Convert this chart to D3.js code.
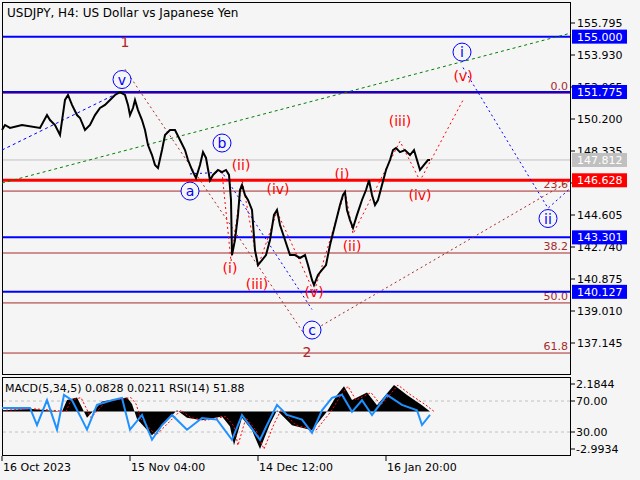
<!DOCTYPE html>
<html><head><meta charset="utf-8">
<script src="https://cdn.jsdelivr.net/npm/d3@7"></script>
<style>body{margin:0;background:#fff}text{font-family:"DejaVu Sans",sans-serif}</style>
</head><body>
<svg id="c" width="640" height="480"></svg>
<script>
var svg = d3.select("#c");

// price path (bar index, close)
var barIdx = [0,3,8,20,38,45,48,53,58,63,66,70,75,78,83,88,93,98,103,108,113,118,123,126,128,131,133,136,140,143,146,150,153,156,160,163,168,173,178,183,186,190,194,198,201,204,208,211,216,220,224,227,229,230,233,236,238,240,243,246,250,253,256,260,264,268,272,275,278,283,288,293,298,303,306,310,312,316,320,324,328,333,338,341,343,345,348,351,355,360,364,367,370,373,376,380,384,388,391,394,398,403,408,412,415,418,422,426,428];
var closes = [149.56,149.85,149.68,149.85,149.68,150.43,150.14,149.85,149.27,151.31,151.60,151.02,150.43,150.26,149.56,149.85,150.43,150.84,151.02,151.31,151.60,151.77,151.60,151.02,150.43,150.84,151.31,150.72,150.14,149.56,148.68,148.10,147.52,147.34,148.39,149.27,149.56,149.56,148.98,148.39,147.81,147.23,146.76,147.52,148.27,147.93,146.63,146.94,147.23,147.11,147.23,146.94,145.48,142.27,143.15,144.61,146.06,146.35,145.77,145.48,144.90,142.56,141.69,141.98,142.27,143.15,144.61,144.90,144.02,143.15,142.27,142.27,142.10,142.27,141.69,140.82,140.52,141.11,141.40,141.69,142.86,144.02,145.19,145.77,145.94,144.90,144.31,143.85,144.61,145.48,146.06,146.63,145.77,145.19,145.48,146.35,147.23,147.81,148.39,148.51,148.27,148.39,148.10,148.39,147.81,147.23,147.52,147.81,147.81];

var axisTicks = [155.795,153.930,152.065,150.200,148.335,146.470,144.605,142.740,140.875,139.010,137.145];
var levels = [
  {p:155.000, c:"#0000ff", w:2, box:"#0000ff", t:"155.000"},
  {p:151.775, c:"#0000ff", w:2, box:"#0000ff", t:"151.775"},
  {p:147.812, c:"#c0c0c0", w:1, box:"#c0c0c0", t:"147.812"},
  {p:146.628, c:"#ff0000", w:3, box:"#ff0000", t:"146.628"},
  {p:143.301, c:"#0000ff", w:2, box:"#0000ff", t:"143.301"},
  {p:140.127, c:"#0000ff", w:2, box:"#0000ff", t:"140.127"}
];
var fibPrices = [151.70, 146.00, 142.39, 139.48, 136.56];
var fibLabels = ["0.0","23.6","38.2","50.0","61.8"];

var timeTicks = [0,128,256,384];
var timeLabels = ["16 Oct 2023","15 Nov 04:00","14 Dec 12:00","16 Jan 20:00"];

// indicator panel
var indIdx = [0,30,45,60,65,75,85,100,125,130,135,150,165,175,185,200,220,228,232,240,250,258,268,275,290,310,325,335,342,350,365,375,392,405,420,428];
var macd = [0.1,0.2,0.1,0.0,0.9,1.1,-0.5,0.8,1.1,0.6,-0.6,-1.9,-0.7,0.1,-0.5,-0.7,-0.4,-1.2,-2.7,-0.5,-1.5,-3.0,-1.0,0.1,-1.1,-1.5,0.0,1.3,2.0,0.9,1.5,0.5,2.1,1.3,0.5,0.0];
var rsiIdx = [0,28,35,45,55,62,70,80,85,95,110,120,128,140,150,160,170,185,200,215,230,240,258,265,275,285,300,310,320,330,340,350,360,370,385,400,415,420,428];
var rsi = [61,61,39,71,33,78,71,46,33,65,71,74,33,52,20,39,52,33,48,46,20,52,20,39,65,52,46,29,58,74,78,56,71,52,78,65,58,39,52];

// wave marks [bar, price, text]
var circBlue = [[120,152.5,"v"],[188,146.0,"a"],[220,148.8,"b"],[310,137.9,"c"],[460,154.1,"i"],[546,144.4,"ii"]];
var redLbl = [[239,147.2,"(ii)"],[276,145.8,"(iv)"],[228,141.2,"(i)"],[255,140.3,"(iii)"],[312,139.8,"(v)"],[340,146.7,"(i)"],[350,142.5,"(ii)"],[398,149.8,"(iii)"],[418,145.5,"(iv)"],[461,152.4,"(v)"]];
var bigLbl = [[123,154.4,"1"],[305,136.3,"2"]];

var blueDash = [[0,148.39],[118,151.77]];
var greenDot = [[0,146.47],[569,155.21]];
var brownDot = [[123,153.1],[303,137.6],[569,146.63]];
var blueABC = [[188,147.0],[220,147.1],[310,139.1]];
var redDot = [[220,147.1],[229,141.9],[240,146.7],[256,141.6],[275,144.8],[312,140.1],[343,146.0],[351,143.5],[398,148.9],[418,146.6],[461,151.3]];
var blueDot2 = [[461,153.2],[546,145.0],[569,146.2]];

// layout
var x = d3.scaleLinear().domain([0,569]).range([2,571]);
var y = d3.scaleLinear().domain([155.795,137.145]).range([23,343]);
var ym = d3.scaleLinear().domain([2.1844,-2.9934]).range([384,449]);
var yr = d3.scaleLinear().domain([70,30]).range([401,432]);

svg.append("rect").attr("width",640).attr("height",480).attr("fill","#f5f5f5");
svg.append("rect").attr("x",2.5).attr("y",2.5).attr("width",568).attr("height",372).attr("fill","#f5f5f5").attr("stroke","#000");
svg.append("rect").attr("x",2.5).attr("y",377.5).attr("width",568).attr("height",78).attr("fill","#f5f5f5").attr("stroke","#000");

var main = svg.append("g");
var line = d3.line().x(d => x(d[0])).y(d => y(d[1]));

// fib lines
fibPrices.forEach(function(p, i) {
  main.append("line").attr("x1",3).attr("x2",570).attr("y1",y(p)).attr("y2",y(p)).attr("stroke","#a52a2a").attr("stroke-width",1);
  main.append("text").attr("x",568).attr("y",y(p)-3).attr("text-anchor","end").attr("font-size",11).attr("fill","#a52a2a").text(fibLabels[i]);
});

levels.forEach(function(l) {
  main.append("line").attr("x1",3).attr("x2",570).attr("y1",y(l.p)).attr("y2",y(l.p)).attr("stroke",l.c).attr("stroke-width",l.w);
});

main.append("path").attr("d",line(blueDash)).attr("fill","none").attr("stroke","#0000ff").attr("stroke-dasharray","3,3");
main.append("path").attr("d",line(greenDot)).attr("fill","none").attr("stroke","#008000").attr("stroke-dasharray","3,3");
main.append("path").attr("d",line(brownDot)).attr("fill","none").attr("stroke","#a52a2a").attr("stroke-dasharray","2,3");
main.append("path").attr("d",line(blueABC)).attr("fill","none").attr("stroke","#0000ff").attr("stroke-dasharray","2,3");
main.append("path").attr("d",line(redDot)).attr("fill","none").attr("stroke","#ff0000").attr("stroke-dasharray","2,3");
main.append("path").attr("d",line(blueDot2)).attr("fill","none").attr("stroke","#0000ff").attr("stroke-dasharray","2,3");

// price
main.append("path").attr("d",line(barIdx.map((b,i) => [b, closes[i]]))).attr("fill","none").attr("stroke","#000").attr("stroke-width",2);

// labels
circBlue.forEach(function(d) {
  main.append("circle").attr("cx",x(d[0])).attr("cy",y(d[1])).attr("r",9).attr("fill","#f5f5f5").attr("stroke","#0000ff");
  main.append("text").attr("x",x(d[0])).attr("y",y(d[1])+5).attr("text-anchor","middle").attr("font-size",14).attr("fill","#0000ff").text(d[2]);
});
redLbl.forEach(function(d) {
  main.append("text").attr("x",x(d[0])).attr("y",y(d[1])).attr("text-anchor","middle").attr("font-size",14).attr("fill","#ff0000").text(d[2]);
});
bigLbl.forEach(function(d) {
  main.append("text").attr("x",x(d[0])).attr("y",y(d[1])).attr("text-anchor","middle").attr("font-size",14).attr("fill","#b22222").text(d[2]);
});

main.append("text").attr("x",7).attr("y",17).attr("font-size",12).text("USDJPY, H4:  US Dollar vs Japanese Yen");

// price axis
axisTicks.forEach(function(p) {
  svg.append("line").attr("x1",571).attr("x2",575).attr("y1",y(p)).attr("y2",y(p)).attr("stroke","#000");
  svg.append("text").attr("x",577).attr("y",y(p)+4).attr("font-size",11).text(p.toFixed(3));
});
levels.forEach(function(l) {
  svg.append("rect").attr("x",572).attr("y",y(l.p)-7).attr("width",55).attr("height",14).attr("fill",l.box);
  svg.append("text").attr("x",577).attr("y",y(l.p)+4).attr("font-size",11).attr("fill","#fff").text(l.t);
});

// indicator
[70,30].forEach(function(v) {
  svg.append("line").attr("x1",3).attr("x2",570).attr("y1",yr(v)).attr("y2",yr(v)).attr("stroke","#c0c0c0").attr("stroke-dasharray","3,3");
});
var area = d3.area().x(d => x(d[0])).y0(ym(0)).y1(d => ym(d[1]));
svg.append("path").attr("d",area(indIdx.map((b,i) => [b, macd[i]]))).attr("fill","#000");
svg.append("path").attr("d",d3.line().x(d => x(d[0])).y(d => ym(d[1]))(indIdx.map((b,i) => [b+4, macd[i]]))).attr("fill","none").attr("stroke","#ff0000").attr("stroke-dasharray","2,2");
svg.append("path").attr("d",d3.line().x(d => x(d[0])).y(d => yr(d[1]))(rsiIdx.map((b,i) => [b, rsi[i]]))).attr("fill","none").attr("stroke","#1e90ff").attr("stroke-width",2);
svg.append("text").attr("x",5).attr("y",392).attr("font-size",11).text("MACD(5,34,5) 0.0828 0.0211 RSI(14) 51.88");

[[ym(2.1844),"2.1844"],[yr(70),"70.00"],[yr(30),"30.00"],[ym(-2.9934),"-2.9934"]].forEach(function(t) {
  svg.append("line").attr("x1",571).attr("x2",575).attr("y1",t[0]).attr("y2",t[0]).attr("stroke","#000");
  svg.append("text").attr("x",576).attr("y",t[0]+4).attr("font-size",11).text(t[1]);
});

timeTicks.forEach(function(t, i) {
  svg.append("line").attr("x1",x(t)).attr("x2",x(t)).attr("y1",456).attr("y2",461).attr("stroke","#000");
  svg.append("text").attr("x",x(t)+1).attr("y",471).attr("font-size",11).text(timeLabels[i]);
});
</script>
</body></html>
